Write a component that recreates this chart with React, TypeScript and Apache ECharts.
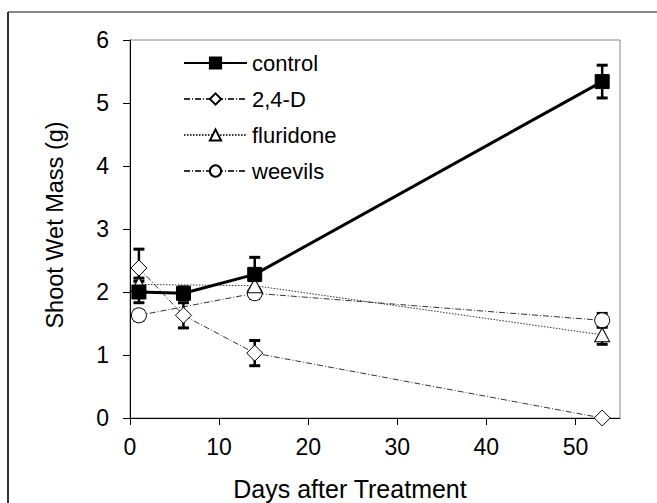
import React, { useEffect, useRef } from "react";
import * as echarts from "echarts";

const FONT = "'Liberation Sans', Arial, sans-serif";

const seriesNames = ["control", "2,4-D", "fluridone", "weevils"];

const controlDays = [1, 6, 14, 53];
const controlMean = [2.0, 1.98, 2.28, 5.34];
const controlErr = [0.17, 0.1, 0.27, 0.26];

const d24Days = [1, 6, 14, 53];
const d24Mean = [2.38, 1.63, 1.03, 0];
const d24Err = [0.3, 0.2, 0.2, 0];

const fluDays = [1, 14, 53];
const fluMean = [2.12, 2.1, 1.32];
const fluErr = [0.1, 0.08, 0.15];

const weeDays = [1, 14, 53];
const weeMean = [1.63, 1.98, 1.55];
const weeErr = [0.08, 0.08, 0.11];

const xTicks = [0, 10, 20, 30, 40, 50];
const yTicks = [0, 1, 2, 3, 4, 5, 6];

const xTitle = "Days after Treatment";
const yTitle = "Shoot Wet Mass (g)";

function pts(xs: number[], ys: number[]) {
  return xs.map((x, i) => [x, ys[i]]);
}
function errPts(xs: number[], ys: number[], es: number[]) {
  return xs.map((x, i) => [x, ys[i], es[i]]);
}

function errorSeries(data: number[][], width: number) {
  return {
    type: "custom",
    z: 1,
    silent: true,
    renderItem: (params: any, api: any) => {
      const x = api.value(0);
      const y = api.value(1);
      const e = api.value(2);
      if (!e) return null;
      const top = api.coord([x, y + e]);
      const bot = api.coord([x, y - e]);
      const h = 5.5;
      const st = { stroke: "#000", lineWidth: width };
      return {
        type: "group",
        children: [
          { type: "line", shape: { x1: top[0], y1: top[1], x2: bot[0], y2: bot[1] }, style: st },
          { type: "line", shape: { x1: top[0] - h, y1: top[1], x2: top[0] + h, y2: top[1] }, style: { stroke: "#000", lineWidth: 3 } },
          { type: "line", shape: { x1: bot[0] - h, y1: bot[1], x2: bot[0] + h, y2: bot[1] }, style: { stroke: "#000", lineWidth: 3 } },
        ],
      };
    },
    encode: { x: 0, y: 1 },
    data,
  };
}

export default function App() {
  const ref = useRef<HTMLDivElement>(null);
  useEffect(() => {
    if (!ref.current) return;
    const chart = echarts.init(ref.current, undefined, { renderer: "svg" });
    const thin = { color: "#333", width: 1 };
    chart.setOption({
      animation: false,
      backgroundColor: "#fff",
      textStyle: { fontFamily: FONT },
      grid: {
        left: 130,
        top: 40,
        right: 37,
        bottom: 85,
        show: true,
        borderColor: "#888",
        borderWidth: 1,
        backgroundColor: "transparent",
      },
      legend: {
        orient: "vertical",
        left: 178,
        top: 47,
        itemWidth: 63,
        itemHeight: 14,
        itemGap: 14,
        data: seriesNames,
        textStyle: { fontSize: 22, color: "#000", fontFamily: FONT },
      },
      xAxis: {
        type: "value",
        min: 0,
        max: 55,
        interval: 10,
        splitLine: { show: false },
        axisLine: { show: true, lineStyle: { color: "#000", width: 1 } },
        axisTick: { show: true, length: 7, customValues: xTicks, lineStyle: { color: "#000" } },
        axisLabel: { customValues: xTicks, fontSize: 23, color: "#000", margin: 17, fontFamily: FONT },
      },
      yAxis: {
        type: "value",
        min: 0,
        max: 6,
        interval: 1,
        splitLine: { show: false },
        axisLine: { show: true, lineStyle: { color: "#000", width: 1 } },
        axisTick: { show: true, length: 7, customValues: yTicks, lineStyle: { color: "#000" } },
        axisLabel: { customValues: yTicks, fontSize: 23, color: "#000", margin: 21, fontFamily: FONT },
      },
      graphic: [
        { type: "line", shape: { x1: 8, y1: 12, x2: 657, y2: 12 }, style: { stroke: "#888", lineWidth: 2 } },
        { type: "line", shape: { x1: 8, y1: 12, x2: 8, y2: 503 }, style: { stroke: "#333", lineWidth: 2 } },
        {
          type: "text",
          x: 350,
          y: 489,
          style: { text: xTitle, fontSize: 25, fill: "#000", textAlign: "center", textVerticalAlign: "middle", fontFamily: FONT },
        },
        {
          type: "text",
          x: 55,
          y: 225,
          rotation: Math.PI / 2,
          style: { text: yTitle, fontSize: 23.5, fill: "#000", textAlign: "center", textVerticalAlign: "middle", fontFamily: FONT },
        },
      ],
      series: [
        errorSeries(errPts(controlDays, controlMean, controlErr), 2.5),
        errorSeries(errPts(d24Days, d24Mean, d24Err), 2.5),
        errorSeries(errPts(fluDays, fluMean, fluErr), 2.5),
        errorSeries(errPts(weeDays, weeMean, weeErr), 2.5),
        {
          name: "weevils",
          type: "line",
          z: 3,
          data: pts(weeDays, weeMean),
          symbol: "circle",
          symbolSize: 15,
          lineStyle: { ...thin, type: [6, 2, 1, 2] },
          itemStyle: { color: "#fff", borderColor: "#000", borderWidth: 1 },
        },
        {
          name: "fluridone",
          type: "line",
          z: 4,
          data: pts(fluDays, fluMean),
          symbol: "triangle",
          symbolSize: [15, 14],
          lineStyle: { ...thin, type: [1.5, 1.5] },
          itemStyle: { color: "#fff", borderColor: "#000", borderWidth: 1 },
        },
        {
          name: "2,4-D",
          type: "line",
          z: 5,
          data: pts(d24Days, d24Mean),
          symbol: "diamond",
          symbolSize: [16, 16],
          lineStyle: { ...thin, type: [6, 2, 1, 2] },
          itemStyle: { color: "#fff", borderColor: "#000", borderWidth: 1 },
        },
        {
          name: "control",
          type: "line",
          z: 6,
          data: pts(controlDays, controlMean),
          symbol: "rect",
          symbolSize: 14,
          lineStyle: { color: "#000", width: 3, type: "solid" },
          itemStyle: { color: "#000", borderColor: "#000", borderWidth: 1 },
        },
      ],
    });
    return () => chart.dispose();
  }, []);
  return <div ref={ref} style={{ position: "fixed", left: 0, top: 0, width: 657, height: 503 }} />;
}
